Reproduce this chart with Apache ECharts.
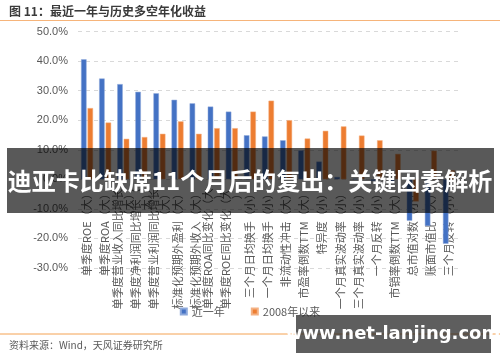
<!DOCTYPE html>
<html>
<head>
<meta charset="utf-8">
<script src="https://cdn.jsdelivr.net/npm/echarts@6/dist/echarts.min.js"></script>
<style>
html,body{margin:0;padding:0;background:#fff;}
#chart{width:500px;height:362px;}
</style>
</head>
<body>
<div id="chart"></div>
<script>
const categories = [
  '单季度ROE（大）',
  '单季度ROA（大）',
  '单季度营业收入同比增长（大）',
  '单季度净利润同比增长（大）',
  '单季度营业利润同比增长（大）',
  '标准化预期外盈利（大）',
  '标准化预期外收入（大）',
  '单季度ROA同比变化（大）',
  '单季度ROE同比变化（大）',
  '三个月日均换手（小）',
  '一个月日均换手（小）',
  '非流动性冲击（大）',
  '市盈率倒数TTM（大）',
  '特异度（小）',
  '一个月真实波动率（小）',
  '三个月真实波动率（小）',
  '一个月反转（小）',
  '市销率倒数TTM（大）',
  '总市值对数（小）',
  '账面市值比（大）',
  '三个月反转（小）'
];
const recentYear = [40.6, 34.1, 32.2, 29.6, 29.1, 26.9, 25.7, 24.6, 22.9, 14.9, 14.5, 13.2, 9.8, 6.0, 0.8, 0.2, -0.6, -0.8, -14.0, -15.8, -21.8];
const since2008 = [24.1, 19.2, 13.7, 14.3, 15.4, 19.6, 15.4, 17.3, 17.3, 22.9, 26.6, 20.0, 13.8, 16.4, 17.9, 14.8, 13.2, 8.6, -7.5, 9.7, 3.1];
const seriesNames = ['近一年', '2008年以来'];
const yTicks = {min: -30, max: 50, interval: 10};
const titleText = '图 11：最近一年与历史多空年化收益';
const sourceText = '资料来源：Wind，天风证券研究所';
const bannerText = '迪亚卡比缺席11个月后的复出：关键因素解析';
const watermarkText = 'www.net-lanjing.com';

const cjk = '"Noto Sans CJK SC", "Microsoft YaHei", sans-serif';
const H = 362, gridTop = 31.5, gridBottom = 94;
const plotH = H - gridTop - gridBottom;
// move the category axis up to the zero line of the value axis
const zeroOffset = -((0 - yTicks.min) / (yTicks.max - yTicks.min)) * plotH;

const chart = echarts.init(document.getElementById('chart'), null, {renderer: 'canvas'});
chart.setOption({
  animation: false,
  backgroundColor: '#fff',
  grid: {left: 78, right: 42, top: gridTop, bottom: gridBottom, containLabel: false, outerBoundsMode: 'none'},
  legend: {
    data: seriesNames,
    left: 'center',
    top: 301,
    icon: 'rect',
    itemWidth: 6,
    itemHeight: 6,
    itemGap: 26,
    textStyle: {color: '#595959', fontSize: 11, fontFamily: cjk}
  },
  xAxis: {
    type: 'category',
    data: categories,
    position: 'bottom',
    offset: zeroOffset,
    axisLine: {show: false, onZero: false},
    axisTick: {show: false},
    axisLabel: {
      rotate: 90,
      interval: 0,
      color: '#595959',
      fontSize: 11,
      fontFamily: cjk,
      margin: 9,
      width: 127,
      overflow: 'break'
    }
  },
  yAxis: {
    type: 'value',
    min: yTicks.min,
    max: yTicks.max,
    interval: yTicks.interval,
    axisLine: {show: false},
    axisTick: {show: false},
    axisLabel: {
      color: '#595959',
      fontSize: 11,
      fontFamily: 'Liberation Sans, Arial, sans-serif',
      margin: 10,
      formatter: v => v.toFixed(1) + '%'
    },
    splitLine: {lineStyle: {color: '#d9d9d9', type: [4, 4], width: 1}}
  },
  series: [
    {
      name: seriesNames[0],
      type: 'bar',
      data: recentYear,
      barWidth: 5.5,
      barGap: '18%',
      itemStyle: {color: '#4472C4', borderColor: '#8ea9db', borderWidth: 0.5}
    },
    {
      name: seriesNames[1],
      type: 'bar',
      data: since2008,
      barWidth: 5.5,
      barGap: '18%',
      itemStyle: {color: '#ED7D31', borderColor: '#f4b183', borderWidth: 0.5}
    }
  ],
  graphic: [
    {type: 'text', left: 9, top: 5, z: 10,
     style: {text: titleText, fill: '#3a3a3a', font: 'bold 12px ' + cjk}},
    {type: 'line', z: 10, shape: {x1: 0, y1: 20.5, x2: 500, y2: 20.5},
     style: {stroke: '#f6b47a', lineWidth: 1.2}},
    {type: 'line', z: 10, shape: {x1: 0, y1: 334, x2: 500, y2: 334},
     style: {stroke: '#f4a252', lineWidth: 1}},
    {type: 'text', left: 9, top: 340, z: 10,
     style: {text: sourceText, fill: '#595959', font: '10px ' + cjk}},
    {type: 'rect', z: 50, shape: {x: 7, y: 148, width: 487, height: 65},
     style: {fill: 'rgba(0,0,0,0.65)'}},
    {type: 'text', z: 51, x: 250, y: 181,
     style: {text: bannerText, fill: '#ffffff', font: 'bold 24px ' + cjk, align: 'center', verticalAlign: 'middle'}},
    {type: 'rect', z: 50, shape: {x: 296, y: 315, width: 195, height: 38},
     style: {fill: 'rgba(40,40,40,0.75)'}},
    {type: 'text', z: 51, x: 393, y: 334,
     style: {text: watermarkText, fill: '#ffffff', font: 'bold 18px "DejaVu Sans", sans-serif', align: 'center', verticalAlign: 'middle'}}
  ]
});
</script>
</body>
</html>
